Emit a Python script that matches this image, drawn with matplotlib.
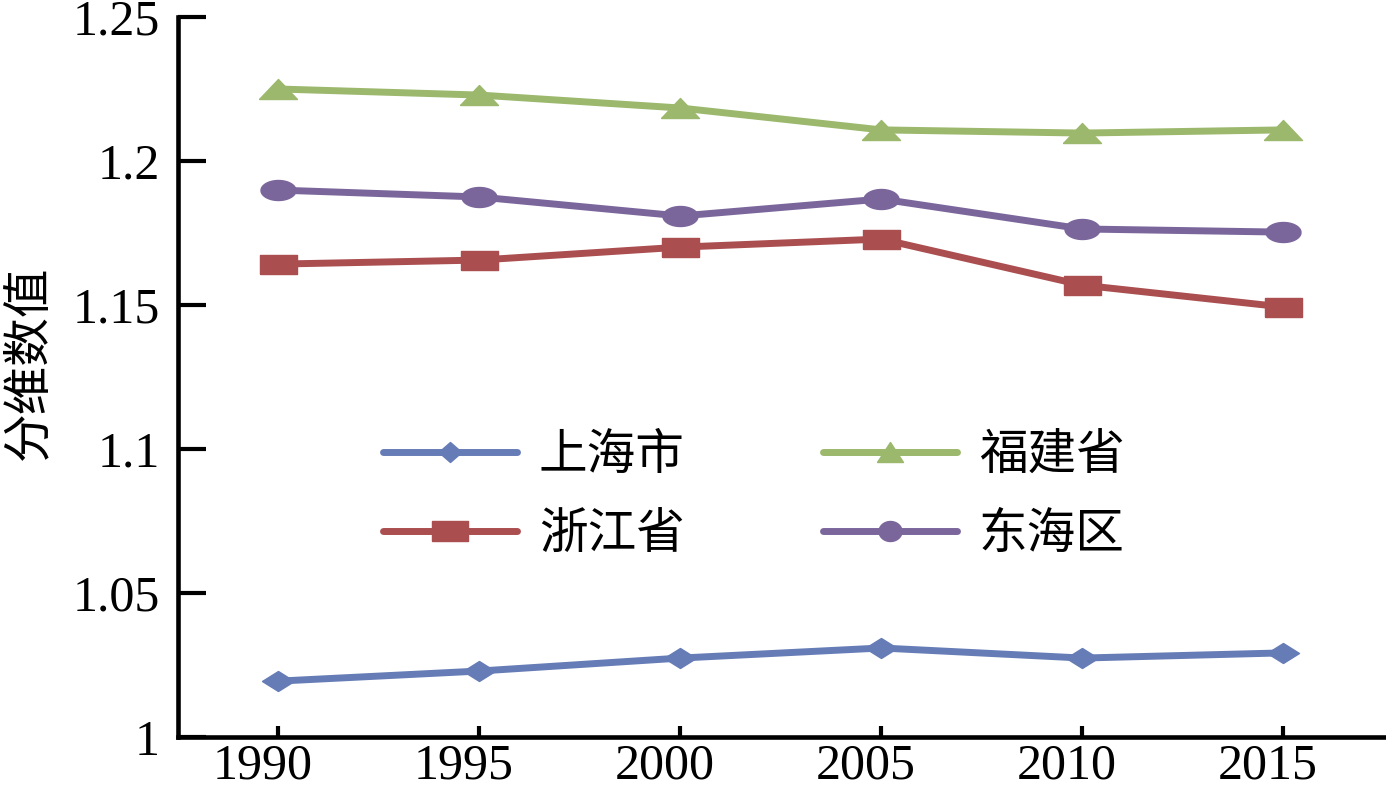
import numpy as np
import matplotlib
matplotlib.use('Agg')
from matplotlib import pyplot as plt
from matplotlib.path import Path
from matplotlib.lines import Line2D
from matplotlib.ticker import FuncFormatter
from matplotlib.transforms import ScaledTranslation

plt.rcParams['font.family'] = ['Liberation Serif', 'Noto Sans CJK SC']

years = [1990, 1995, 2000, 2005, 2010, 2015]
shanghai = [1.0194, 1.0229, 1.0274, 1.0309, 1.0274, 1.0292]
zhejiang = [1.1642, 1.1656, 1.1701, 1.1729, 1.1569, 1.1493]
fujian = [1.2250, 1.2229, 1.2184, 1.2108, 1.2097, 1.2108]
donghai = [1.1899, 1.1875, 1.1809, 1.1868, 1.1764, 1.1753]
names = ['上海市', '浙江省', '福建省', '东海区']
yticks = [1, 1.05, 1.1, 1.15, 1.2, 1.25]

PX = 72.0 / 100  # points per pixel


def shape(kind, w, h):
    # marker path of w x h pixels, returns (path, markersize)
    a = h / float(w)
    if kind == 'o':
        t = np.linspace(0, 2 * np.pi, 60)
        verts = np.column_stack([np.cos(t), a * np.sin(t)])
    elif kind == 'D':
        verts = [(-1, 0), (0, a), (1, 0), (0, -a), (-1, 0)]
    elif kind == 's':
        verts = [(-1, -a), (1, -a), (1, a), (-1, a), (-1, -a)]
    else:
        verts = [(-1, -a), (1, -a), (0, a), (-1, -a)]
    return Path(verts), w * PX


colors = ['#667cb6', '#ab4e50', '#9bb86c', '#7b669c']
series = [shanghai, zhejiang, fujian, donghai]
kinds = ['D', 's', '^', 'o']
plot_sizes = [(32, 20), (37, 19), (38, 20), (35, 20)]
leg_sizes = [(23, 20), (36, 20), (26, 20), (23, 20)]

fig = plt.figure(figsize=(13.86, 7.91), dpi=100)
ax = fig.add_axes([0.1284, 0.0683, 0.87, 0.9102])

for vals, c, k, wh in zip(series, colors, kinds, plot_sizes):
    m, ms = shape(k, *wh)
    ax.plot(years, vals, color=c, lw=5, marker=m, ms=ms,
            solid_capstyle='round', zorder=3)

ax.set_xlim(1987.5, 2017.5)
ax.set_ylim(1, 1.25)
ax.set_xticks(years)
ax.set_yticks(yticks)
ax.yaxis.set_major_formatter(FuncFormatter(lambda v, p: '%g' % v))

for s in ['top', 'right']:
    ax.spines[s].set_visible(False)
for s in ['left', 'bottom']:
    ax.spines[s].set_linewidth(3.3)
ax.tick_params(axis='y', direction='in', length=20, width=3,
               labelsize=36, pad=13)
ax.tick_params(axis='x', direction='in', length=8, width=3,
               labelsize=36, pad=4)
# year labels sit a little left of their ticks in the original
shift = ScaledTranslation(-0.16, 0, fig.dpi_scale_trans)
for lab in ax.get_xticklabels():
    lab.set_transform(lab.get_transform() + shift)

ax.set_ylabel('分维数值', fontsize=35)
ax.yaxis.set_label_coords(-0.104, 0.52)

handles = []
for c, k, wh in zip(colors, kinds, leg_sizes):
    m, ms = shape(k, *wh)
    handles.append(Line2D([], [], color=c, lw=5, marker=m, ms=ms,
                          solid_capstyle='round'))
ax.legend(handles, names, ncol=2, frameon=False, fontsize=35,
          loc='center', bbox_to_anchor=(0.544, 0.373),
          bbox_transform=fig.transFigure, handlelength=2.75,
          handletextpad=0.45, columnspacing=2.85, labelspacing=0.7)

fig.savefig('out.png', dpi=100)
